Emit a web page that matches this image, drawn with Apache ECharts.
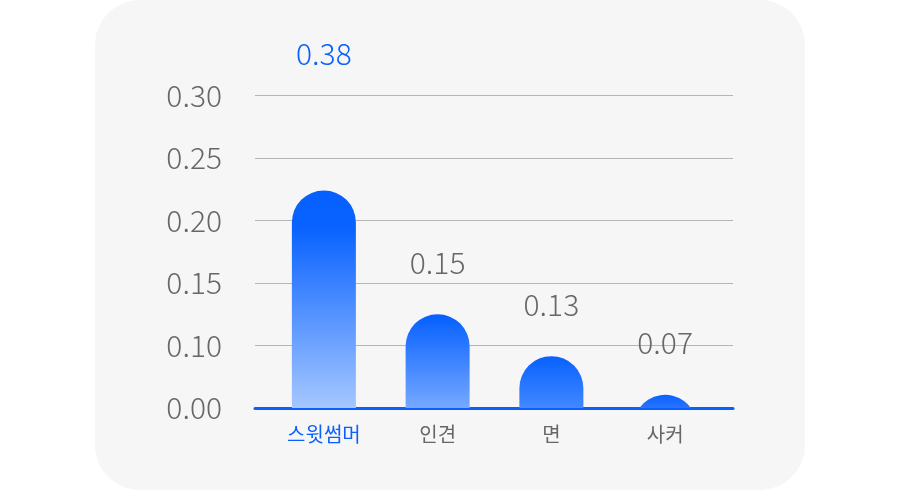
<!DOCTYPE html>
<html>
<head>
<meta charset="utf-8">
<script src="https://cdn.jsdelivr.net/npm/echarts@6/dist/echarts.min.js"></script>
<style>
  html, body { margin: 0; padding: 0; background: #ffffff; }
  #chart { width: 900px; height: 490px; }
</style>
</head>
<body>
<div id="chart"></div>
<script>
// ---- data ----
const categories = ['스윗썸머', '인견', '면', '사커'];
const barHeights = [3.48, 1.50, 0.83, 0.21];          // bar heights in axis units
const valueLabels = ['0.38', '0.15', '0.13', '0.07'];  // printed values
const yTickLabels = ['0.00', '0.10', '0.15', '0.20', '0.25', '0.30'];
const highlightIndex = 0;

// ---- styles ----
const FONT = "'Noto Sans CJK KR', 'Noto Sans', sans-serif";
const BLUE = '#0a5fff';
const GRAY = '#676767';
const barBottomColors = ['#a6c7ff', '#76a8ff', '#4288ff', '#2a74ff'];
const BAR_R = 32;
const LABEL_GAP = 52;
const HIGHLIGHT_EXTRA = 85;

const chart = echarts.init(document.getElementById('chart'));

function renderBar(params, api) {
  const i = api.value(0);
  const v = api.value(1);
  const top = api.coord([i, v]);
  const base = api.coord([i, 0]);
  const cx = top[0];
  const t = top[1];
  const b = base[1];
  const h = b - t;
  let d;
  if (h >= BAR_R) {
    d = 'M' + (cx - BAR_R) + ' ' + b +
        ' L' + (cx - BAR_R) + ' ' + (t + BAR_R) +
        ' A' + BAR_R + ' ' + BAR_R + ' 0 0 1 ' + (cx + BAR_R) + ' ' + (t + BAR_R) +
        ' L' + (cx + BAR_R) + ' ' + b + ' Z';
  } else {
    const dy = t + BAR_R - b;
    const w = Math.sqrt(BAR_R * BAR_R - dy * dy);
    d = 'M' + (cx - w) + ' ' + b +
        ' A' + BAR_R + ' ' + BAR_R + ' 0 0 1 ' + (cx + w) + ' ' + b + ' Z';
  }
  const idx = params.dataIndex;
  const hl = idx === highlightIndex;
  return {
    type: 'group',
    children: [
      {
        type: 'path',
        shape: { pathData: d },
        style: {
          fill: new echarts.graphic.LinearGradient(0, 0, 0, 1, [
            { offset: 0, color: '#0560ff' },
            { offset: hl ? 0.18 : 0.05, color: '#0a63ff' },
            { offset: 1, color: barBottomColors[idx] }
          ])
        }
      },
      {
        type: 'text',
        style: {
          text: valueLabels[idx],
          x: cx,
          y: t - LABEL_GAP - (hl ? HIGHLIGHT_EXTRA : 0),
          align: 'center',
          verticalAlign: 'middle',
          fontFamily: FONT,
          fontWeight: 300,
          fontSize: 30,
          fill: hl ? BLUE : GRAY
        },
        z2: 20
      }
    ]
  };
}

const option = {
  animation: false,
  graphic: [{
    type: 'rect',
    left: 95, top: 0, z: -10,
    shape: { width: 710, height: 490, r: 45 },
    style: { fill: '#f6f6f6' }
  }],
  grid: [
    { left: 255, right: 167, top: 95.5, bottom: 82 },
    { left: 267, right: 178, top: 95.5, bottom: 82 }
  ],
  xAxis: [
    {
      gridIndex: 0, type: 'value', min: 0, max: 1,
      axisLine: { show: true, lineStyle: { color: BLUE, width: 3 } },
      axisTick: { show: false }, axisLabel: { show: false }, splitLine: { show: false }
    },
    {
      gridIndex: 1, type: 'category', data: categories,
      axisLine: { show: false }, axisTick: { show: false },
      axisLabel: {
        margin: 16,
        fontFamily: FONT, fontSize: 20,
        color: function (value, index) { return index === highlightIndex ? BLUE : GRAY; }
      }
    }
  ],
  yAxis: [
    {
      gridIndex: 0, type: 'value', min: 0, max: 5, interval: 1,
      axisLine: { show: false }, axisTick: { show: false },
      axisLabel: {
        margin: 33, fontFamily: FONT, fontWeight: 300, fontSize: 30, color: GRAY,
        formatter: function (v) { return yTickLabels[Math.round(v)]; }
      },
      splitLine: { lineStyle: { color: '#b5b5b5', width: 1 } }
    },
    { gridIndex: 1, type: 'value', min: 0, max: 5, show: false }
  ],
  series: [{
    type: 'custom',
    xAxisIndex: 1, yAxisIndex: 1,
    renderItem: renderBar,
    data: barHeights.map(function (v, i) { return [i, v]; }),
    z: 5
  }]
};
chart.setOption(option);
</script>
</body>
</html>
